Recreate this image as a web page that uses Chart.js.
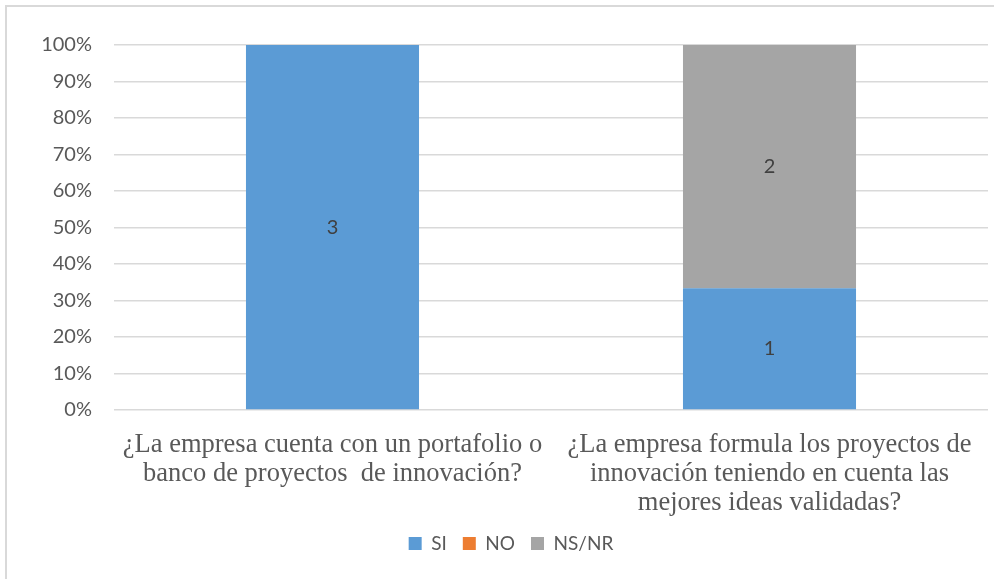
<!DOCTYPE html>
<html>
<head>
<meta charset="utf-8">
<script src="https://cdn.jsdelivr.net/npm/chart.js@4/dist/chart.umd.min.js"></script>
<style>
  html, body { margin: 0; padding: 0; background: #ffffff; }
  #wrap { position: relative; width: 994px; height: 579px; overflow: hidden; }
  #frame { position: absolute; left: 5px; top: 5px; width: 1000px; height: 600px;
           border-top: 2px solid #d9d9d9; border-left: 2px solid #d9d9d9; box-sizing: border-box; }
  canvas { position: absolute; left: 0; top: 0; }
</style>
</head>
<body>
<div id="wrap">
  <div id="frame"></div>
  <canvas id="chart" width="994" height="579"></canvas>
</div>
<script>
// Survey questions (category labels, wrapped into lines)
const questions = [
  ["¿La empresa cuenta con un portafolio o", "banco de proyectos  de innovación?"],
  ["¿La empresa formula los proyectos de", "innovación teniendo en cuenta las", "mejores ideas validadas?"]
];

// Answer counts per question
const siCounts   = [3, 1];
const noCounts   = [0, 0];
const nsnrCounts = [0, 2];

const seriesNames = ["SI", "NO", "NS/NR"];
const seriesColors = ["#5b9bd5", "#ed7d31", "#a5a5a5"];

// Percent-axis tick values
const percentTicks = [0, 10, 20, 30, 40, 50, 60, 70, 80, 90, 100];

const countSets = [siCounts, noCounts, nsnrCounts];
const totals = questions.map((_, i) => countSets.reduce((s, c) => s + c[i], 0));
const toShare = (counts) => counts.map((v, i) => totals[i] ? v / totals[i] * 100 : 0);

// Writes the raw count in the middle of each non-empty segment
const countLabels = {
  id: 'countLabels',
  afterDatasetsDraw(chart) {
    const ctx = chart.ctx;
    ctx.save();
    ctx.font = '20px Lato, "Liberation Sans", sans-serif';
    ctx.fillStyle = '#404040';
    ctx.textAlign = 'center';
    ctx.textBaseline = 'middle';
    chart.data.datasets.forEach((ds, di) => {
      const meta = chart.getDatasetMeta(di);
      meta.data.forEach((bar, i) => {
        const count = countSets[di][i];
        if (!count) return;
        const p = bar.getProps(['x', 'y', 'base'], true);
        ctx.fillText(String(count), p.x, (p.y + p.base) / 2);
      });
    });
    ctx.restore();
  }
};

// Nudges the legend block a little to the right of the canvas centre
const legendShift = {
  id: 'legendShift',
  afterLayout(chart) {
    if (chart.legend) {
      chart.legend.left += 17;
      chart.legend.right += 17;
    }
  }
};

new Chart(document.getElementById('chart'), {
  type: 'bar',
  data: {
    labels: questions,
    datasets: countSets.map((c, k) => ({
      label: seriesNames[k],
      data: toShare(c),
      backgroundColor: seriesColors[k],
      borderWidth: 0,
      barPercentage: 0.396,
      categoryPercentage: 1.0
    }))
  },
  options: {
    responsive: false,
    animation: false,
    layout: { padding: { top: 45, left: 0, right: 6, bottom: 16 } },
    plugins: {
      tooltip: { enabled: false },
      legend: {
        position: 'bottom',
        labels: {
          boxWidth: 13, boxHeight: 13, padding: 16,
          color: '#595959',
          font: { family: 'Lato, "Liberation Sans", sans-serif', size: 19 }
        }
      }
    },
    scales: {
      x: {
        stacked: true,
        grid: { display: false },
        border: { display: false },
        ticks: {
          color: '#595959',
          maxRotation: 0,
          autoSkip: false,
          padding: 12,
          font: { family: '"Liberation Serif", "Times New Roman", serif', size: 26.5, lineHeight: 1.1 }
        },
        afterFit(scale) { scale.height = 108; }
      },
      y: {
        stacked: true,
        min: 0, max: 100,
        afterBuildTicks(scale) { scale.ticks = percentTicks.map(v => ({ value: v })); },
        grid: { color: '#d9d9d9', lineWidth: 1.5, drawTicks: false },
        border: { display: false },
        ticks: {
          color: '#595959',
          padding: 22,
          font: { family: 'Lato, "Liberation Sans", sans-serif', size: 20 },
          callback: (v) => v + '%'
        },
        afterFit(scale) { scale.width = 114; }
      }
    }
  },
  plugins: [countLabels, legendShift]
});
</script>
</body>
</html>
